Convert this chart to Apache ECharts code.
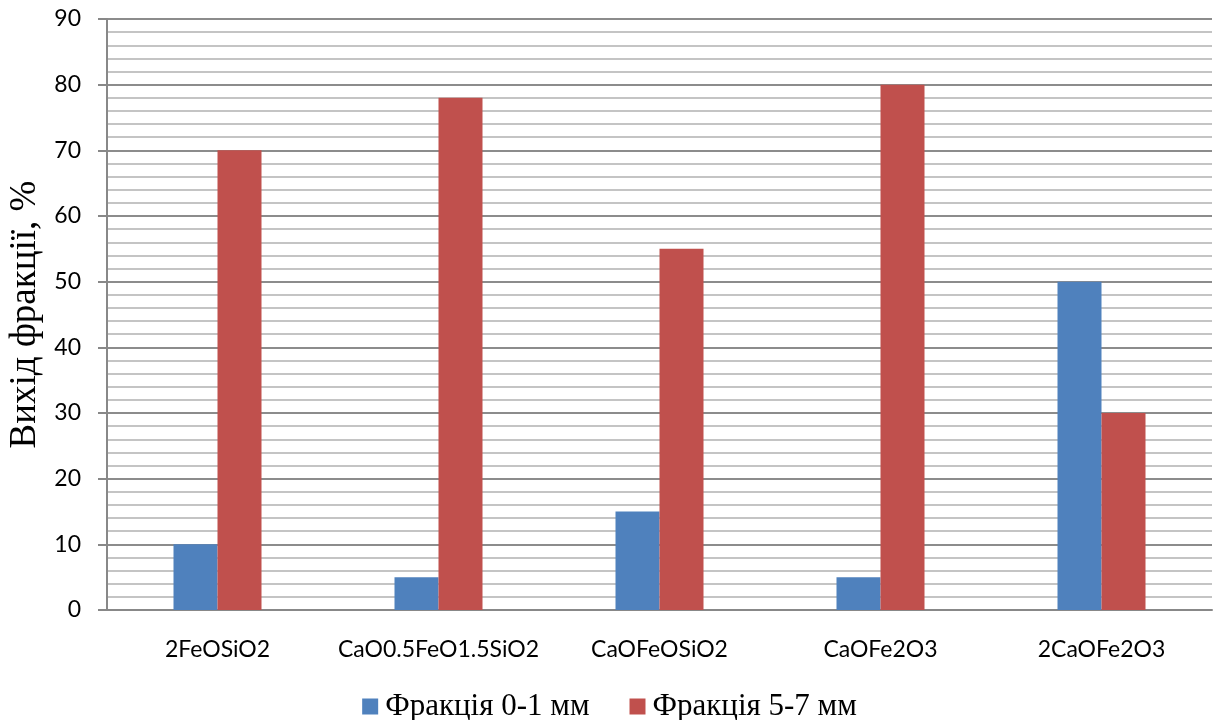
<!DOCTYPE html>
<html>
<head>
<meta charset="utf-8">
<script src="https://cdn.jsdelivr.net/npm/echarts@6/dist/echarts.min.js"></script>
<style>
  html, body { margin: 0; padding: 0; background: #fff; }
  #chart { width: 1219px; height: 720px; }
</style>
</head>
<body>
<div id="chart"></div>
<script>
// Phase compositions on the x axis
const categories = ['2FeOSiO2', 'CaO0.5FeO1.5SiO2', 'CaOFeOSiO2', 'CaOFe2O3', '2CaOFe2O3'];
// Yield of each size fraction, %
const fraction01 = [10, 5, 15, 5, 50];
const fraction57 = [70, 78, 55, 80, 30];
const seriesNames = ['Фракція 0-1 мм', 'Фракція 5-7 мм'];
const yTicks = [0, 10, 20, 30, 40, 50, 60, 70, 80, 90];

const chart = echarts.init(document.getElementById('chart'), null, { renderer: 'canvas' });

chart.setOption({
  animation: false,
  backgroundColor: '#ffffff',
  grid: { left: 107, right: 7, top: 19, bottom: 110, containLabel: false, outerBoundsMode: 'none' },
  legend: {
    top: 686,
    left: 'center',
    itemWidth: 16,
    itemHeight: 16,
    itemGap: 40,
    icon: 'rect',
    textStyle: { fontFamily: 'Liberation Serif', fontSize: 31, color: '#000', padding: [0, 0, 0, 2] },
    data: seriesNames
  },
  xAxis: {
    type: 'category',
    data: categories,
    axisLine: { lineStyle: { color: '#888', width: 2 } },
    axisTick: { show: false },
    axisLabel: { fontFamily: 'Lato', fontSize: 23, color: '#000', margin: 28, interval: 0 }
  },
  yAxis: {
    type: 'value',
    min: yTicks[0],
    max: yTicks[yTicks.length - 1],
    interval: 10,
    name: 'Вихід фракції, %',
    nameLocation: 'middle',
    nameGap: 62,
    nameTextStyle: { fontFamily: 'Liberation Serif', fontSize: 37, color: '#000' },
    axisLine: { show: true, lineStyle: { color: '#888', width: 2 } },
    axisTick: { show: true, length: 9, lineStyle: { color: '#888', width: 2 } },
    axisLabel: { fontFamily: 'Lato', fontSize: 23, color: '#000', margin: 26 },
    splitLine: { show: true, lineStyle: { color: '#8c8c8c', width: 2 } },
    minorTick: { show: false, splitNumber: 5 },
    minorSplitLine: { show: true, lineStyle: { color: '#c4c4c4', width: 2 } }
  },
  series: [
    {
      name: seriesNames[0],
      type: 'bar',
      data: fraction01,
      barWidth: 44,
      barGap: '0%',
      itemStyle: { color: '#4F81BD' }
    },
    {
      name: seriesNames[1],
      type: 'bar',
      data: fraction57,
      barWidth: 44,
      barGap: '0%',
      itemStyle: { color: '#C0504D' }
    }
  ]
});
</script>
</body>
</html>
